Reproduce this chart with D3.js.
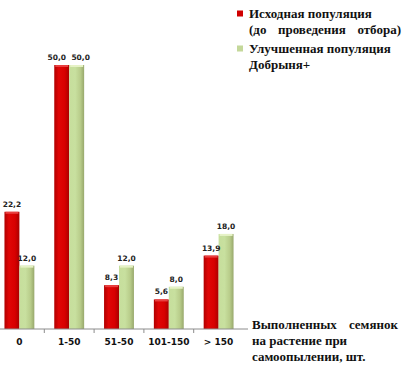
<!DOCTYPE html>
<html>
<head>
<meta charset="utf-8">
<script src="https://cdn.jsdelivr.net/npm/d3@7"></script>
<style>
  body { margin: 0; background: #fff; }
</style>
</head>
<body>
<div id="chart"></div>
<script>
var categories = ["0", "1-50", "51-50", "101-150", "> 150"];
var initialPop = [22.2, 50.0, 8.3, 5.6, 13.9];
var improvedPop = [12.0, 50.0, 12.0, 8.0, 18.0];
var legendLines = [["Исходная популяция", "(до проведения отбора)"], ["Улучшенная популяция", "Добрыня+"]];
var axisTitle = ["Выполненных семянок", "на растение при", "самоопылении, шт."];

var width = 404, height = 371;

var svg = d3.select("#chart")
  .append("svg")
    .attr("width", width)
    .attr("height", height);

var defs = svg.append("defs");

function grad(id, stops) {
  var g = defs.append("linearGradient").attr("id", id)
    .attr("x1", "0%").attr("x2", "100%").attr("y1", "0%").attr("y2", "0%");
  stops.forEach(function(s) {
    g.append("stop").attr("offset", s[0]).attr("stop-color", s[1]);
  });
}
grad("gRed", [["0%", "#b00000"], ["30%", "#e00606"], ["70%", "#d80000"], ["100%", "#a80000"]]);
grad("gGreen", [["0%", "#c6de9c"], ["40%", "#c8e09f"], ["75%", "#b8cc8a"], ["100%", "#98a86c"]]);

var baseY = 329;

var x0 = d3.scaleBand()
  .domain(categories)
  .range([-5.5, 243.5])
  .paddingInner(0.4)
  .paddingOuter(0.2);

var x1 = d3.scaleBand()
  .domain(d3.range(2))
  .range([0, x0.bandwidth()]);

var y = d3.scaleLinear()
  .domain([0, 50])
  .range([baseY, 65]);

var data = categories.map(function(c, i) {
  return { cat: c, values: [initialPop[i], improvedPop[i]] };
});
var fills = ["url(#gRed)", "url(#gGreen)"];
var caps = ["#e84040", "#e6f2c6"];

var groups = svg.selectAll("g.grp")
  .data(data).enter()
  .append("g")
    .attr("class", "grp")
    .attr("transform", function(d) { return "translate(" + x0(d.cat) + ",0)"; });

groups.selectAll("rect.bar")
  .data(function(d) { return d.values; })
  .enter().append("rect")
    .attr("class", "bar")
    .attr("x", function(d, i) { return x1(i); })
    .attr("y", function(d) { return y(d); })
    .attr("width", x1.bandwidth())
    .attr("height", function(d) { return baseY - y(d); })
    .style("fill", function(d, i) { return fills[i]; });

// light cap on top of each bar
groups.selectAll("rect.cap")
  .data(function(d) { return d.values; })
  .enter().append("rect")
    .attr("class", "cap")
    .attr("x", function(d, i) { return x1(i) + 1; })
    .attr("y", function(d) { return y(d); })
    .attr("width", x1.bandwidth() - 2)
    .attr("height", 2)
    .style("fill", function(d, i) { return caps[i]; });

groups.selectAll("text.val")
  .data(function(d) { return d.values.map(function(v, i, a) { return { v: v, i: i, other: a[1 - i] }; }); })
  .enter().append("text")
    .attr("class", "val")
    .attr("x", function(d) {
      // push labels apart when both bars have the same height
      var shift = Math.abs(d.v - d.other) < 2 ? (d.i == 0 ? -5 : 4) : 0;
      return x1(d.i) + x1.bandwidth() / 2 + shift;
    })
    .attr("y", function(d) { return y(d.v) - 5; })
    .attr("text-anchor", "middle")
    .style("font-family", "DejaVu Sans")
    .style("font-weight", "bold")
    .style("font-size", "7.5px")
    .style("fill", "#222")
    .text(function(d) { return d.v.toFixed(1).replace(".", ","); });

// axis
var axis = svg.append("g")
  .attr("transform", "translate(0," + baseY + ")")
  .call(d3.axisBottom(x0).tickSize(0).tickPadding(10));
axis.select(".domain").attr("stroke", "#8c8c8c").attr("d", "M0,0H248");
axis.selectAll("text")
  .style("font-family", "DejaVu Sans")
  .style("font-weight", "bold")
  .style("font-size", "9px")
  .style("fill", "#111");

var bounds = categories.slice(1).map(function(c) { return x0(c) - x0.step() * x0.paddingInner() / 2; });
axis.selectAll("line.sep")
  .data(bounds).enter()
  .append("line")
    .attr("class", "sep")
    .attr("x1", function(d) { return d; })
    .attr("x2", function(d) { return d; })
    .attr("y1", 0).attr("y2", 4)
    .attr("stroke", "#8c8c8c");

// stretch a line to a given width by widening the gaps between words
function justify(sel, w) {
  var n = sel.text().split(" ").length - 1;
  if (!n) return;
  var len = sel.node().getComputedTextLength();
  sel.style("word-spacing", Math.max(0, (w - len) / n) + "px");
}

function serif(sel) {
  sel.style("font-family", "'Liberation Serif', 'Times New Roman', serif")
    .style("font-weight", "bold")
    .style("font-size", "13px")
    .style("fill", "#111");
}

// legend
var legendColors = ["#d00000", "#c4d89a"];
var legendWidths = [[null, 152], [null, null]];
var legend = svg.append("g");
var legendTop = [14, 49];
legendLines.forEach(function(lines, i) {
  legend.append("rect")
    .attr("x", 237).attr("y", legendTop[i] - 3.5)
    .attr("width", 6).attr("height", 6)
    .style("fill", legendColors[i]);
  lines.forEach(function(t, j) {
    var tx = legend.append("text")
      .attr("x", 249).attr("y", legendTop[i] + 4 + j * 16)
      .call(serif)
      .text(t);
    if (legendWidths[i][j]) justify(tx, legendWidths[i][j]);
  });
});

// axis title
var titleWidths = [146, null, null];
var title = svg.append("g");
axisTitle.forEach(function(t, i) {
  var tx = title.append("text")
    .attr("x", 252).attr("y", 329 + i * 16)
    .call(serif)
    .text(t);
  if (titleWidths[i]) justify(tx, titleWidths[i]);
});
</script>
</body>
</html>
